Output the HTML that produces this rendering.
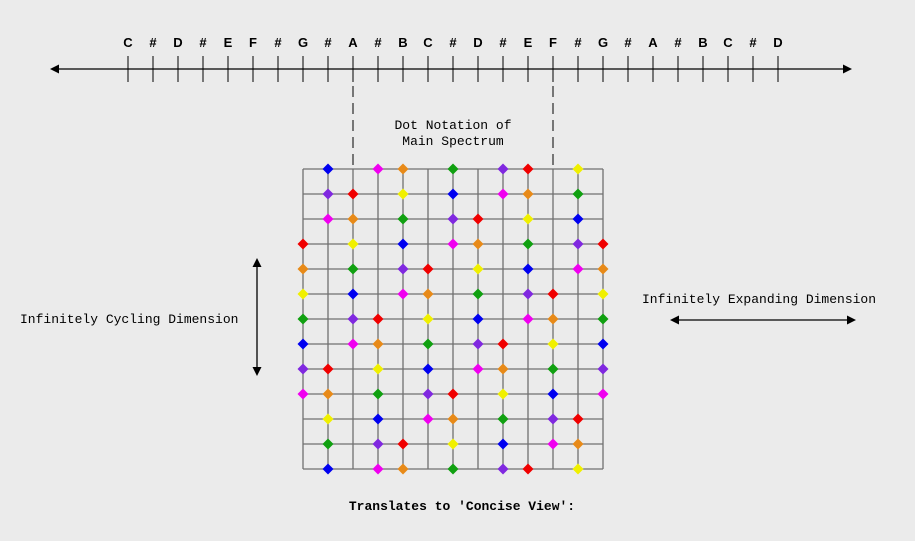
<!DOCTYPE html>
<html><head><meta charset="utf-8"><style>
html,body{margin:0;padding:0;background:#ebebeb;}
svg{display:block;}
.m{font-family:"Liberation Mono",monospace;font-size:13px;fill:#000;}
.l{font-family:"Liberation Sans",sans-serif;font-size:13px;font-weight:bold;fill:#000;}
</style></head><body>
<svg width="915" height="541" viewBox="0 0 915 541" xmlns="http://www.w3.org/2000/svg">
<defs>
<path id="d" d="M0,-5.5 L5.5,0 L0,5.5 L-5.5,0Z"/>
</defs>
<rect width="915" height="541" fill="#ebebeb"/>
<!-- top axis -->
<line x1="54" y1="69" x2="848" y2="69" stroke="#000" stroke-width="1.3"/>
<path d="M50,69 L59,64.5 L59,73.5Z M852,69 L843,64.5 L843,73.5Z" fill="#000"/>
<g stroke="#000" stroke-width="1">
<line x1="128" y1="56" x2="128" y2="82"/><line x1="153" y1="56" x2="153" y2="82"/><line x1="178" y1="56" x2="178" y2="82"/><line x1="203" y1="56" x2="203" y2="82"/><line x1="228" y1="56" x2="228" y2="82"/><line x1="253" y1="56" x2="253" y2="82"/><line x1="278" y1="56" x2="278" y2="82"/><line x1="303" y1="56" x2="303" y2="82"/><line x1="328" y1="56" x2="328" y2="82"/><line x1="353" y1="56" x2="353" y2="82"/><line x1="378" y1="56" x2="378" y2="82"/><line x1="403" y1="56" x2="403" y2="82"/><line x1="428" y1="56" x2="428" y2="82"/><line x1="453" y1="56" x2="453" y2="82"/><line x1="478" y1="56" x2="478" y2="82"/><line x1="503" y1="56" x2="503" y2="82"/><line x1="528" y1="56" x2="528" y2="82"/><line x1="553" y1="56" x2="553" y2="82"/><line x1="578" y1="56" x2="578" y2="82"/><line x1="603" y1="56" x2="603" y2="82"/><line x1="628" y1="56" x2="628" y2="82"/><line x1="653" y1="56" x2="653" y2="82"/><line x1="678" y1="56" x2="678" y2="82"/><line x1="703" y1="56" x2="703" y2="82"/><line x1="728" y1="56" x2="728" y2="82"/><line x1="753" y1="56" x2="753" y2="82"/><line x1="778" y1="56" x2="778" y2="82"/>
</g>
<g class="l" text-anchor="middle">
<text x="128" y="47">C</text><text x="153" y="47">#</text><text x="178" y="47">D</text><text x="203" y="47">#</text><text x="228" y="47">E</text><text x="253" y="47">F</text><text x="278" y="47">#</text><text x="303" y="47">G</text><text x="328" y="47">#</text><text x="353" y="47">A</text><text x="378" y="47">#</text><text x="403" y="47">B</text><text x="428" y="47">C</text><text x="453" y="47">#</text><text x="478" y="47">D</text><text x="503" y="47">#</text><text x="528" y="47">E</text><text x="553" y="47">F</text><text x="578" y="47">#</text><text x="603" y="47">G</text><text x="628" y="47">#</text><text x="653" y="47">A</text><text x="678" y="47">#</text><text x="703" y="47">B</text><text x="728" y="47">C</text><text x="753" y="47">#</text><text x="778" y="47">D</text>
</g>
<!-- dashed -->
<g stroke="#000" stroke-width="1" stroke-dasharray="11,6">
<line x1="353" y1="86" x2="353" y2="165"/><line x1="553" y1="86" x2="553" y2="165"/>
</g>
<text class="m" x="453" y="129" text-anchor="middle">Dot Notation of</text>
<text class="m" x="453" y="145" text-anchor="middle">Main Spectrum</text>
<!-- grid -->
<g stroke="#707070" stroke-width="1.3">
<line x1="303" y1="169" x2="603" y2="169"/><line x1="303" y1="194" x2="603" y2="194"/><line x1="303" y1="219" x2="603" y2="219"/><line x1="303" y1="244" x2="603" y2="244"/><line x1="303" y1="269" x2="603" y2="269"/><line x1="303" y1="294" x2="603" y2="294"/><line x1="303" y1="319" x2="603" y2="319"/><line x1="303" y1="344" x2="603" y2="344"/><line x1="303" y1="369" x2="603" y2="369"/><line x1="303" y1="394" x2="603" y2="394"/><line x1="303" y1="419" x2="603" y2="419"/><line x1="303" y1="444" x2="603" y2="444"/><line x1="303" y1="469" x2="603" y2="469"/>
<line x1="303" y1="169" x2="303" y2="469"/><line x1="328" y1="169" x2="328" y2="469"/><line x1="353" y1="169" x2="353" y2="469"/><line x1="378" y1="169" x2="378" y2="469"/><line x1="403" y1="169" x2="403" y2="469"/><line x1="428" y1="169" x2="428" y2="469"/><line x1="453" y1="169" x2="453" y2="469"/><line x1="478" y1="169" x2="478" y2="469"/><line x1="503" y1="169" x2="503" y2="469"/><line x1="528" y1="169" x2="528" y2="469"/><line x1="553" y1="169" x2="553" y2="469"/><line x1="578" y1="169" x2="578" y2="469"/><line x1="603" y1="169" x2="603" y2="469"/>
</g>
<g>
<!-- row0 y169 -->
<use href="#d" x="328" y="169" fill="#0000f0"/><use href="#d" x="378" y="169" fill="#f000f0"/><use href="#d" x="403" y="169" fill="#e88a18"/><use href="#d" x="453" y="169" fill="#10a010"/><use href="#d" x="503" y="169" fill="#8028e0"/><use href="#d" x="528" y="169" fill="#f00000"/><use href="#d" x="578" y="169" fill="#f0f000"/>
<!-- row1 -->
<use href="#d" x="328" y="194" fill="#8028e0"/><use href="#d" x="353" y="194" fill="#f00000"/><use href="#d" x="403" y="194" fill="#f0f000"/><use href="#d" x="453" y="194" fill="#0000f0"/><use href="#d" x="503" y="194" fill="#f000f0"/><use href="#d" x="528" y="194" fill="#e88a18"/><use href="#d" x="578" y="194" fill="#10a010"/>
<!-- row2 -->
<use href="#d" x="328" y="219" fill="#f000f0"/><use href="#d" x="353" y="219" fill="#e88a18"/><use href="#d" x="403" y="219" fill="#10a010"/><use href="#d" x="453" y="219" fill="#8028e0"/><use href="#d" x="478" y="219" fill="#f00000"/><use href="#d" x="528" y="219" fill="#f0f000"/><use href="#d" x="578" y="219" fill="#0000f0"/>
<!-- row3 -->
<use href="#d" x="303" y="244" fill="#f00000"/><use href="#d" x="353" y="244" fill="#f0f000"/><use href="#d" x="403" y="244" fill="#0000f0"/><use href="#d" x="453" y="244" fill="#f000f0"/><use href="#d" x="478" y="244" fill="#e88a18"/><use href="#d" x="528" y="244" fill="#10a010"/><use href="#d" x="578" y="244" fill="#8028e0"/><use href="#d" x="603" y="244" fill="#f00000"/>
<!-- row4 -->
<use href="#d" x="303" y="269" fill="#e88a18"/><use href="#d" x="353" y="269" fill="#10a010"/><use href="#d" x="403" y="269" fill="#8028e0"/><use href="#d" x="428" y="269" fill="#f00000"/><use href="#d" x="478" y="269" fill="#f0f000"/><use href="#d" x="528" y="269" fill="#0000f0"/><use href="#d" x="578" y="269" fill="#f000f0"/><use href="#d" x="603" y="269" fill="#e88a18"/>
<!-- row5 -->
<use href="#d" x="303" y="294" fill="#f0f000"/><use href="#d" x="353" y="294" fill="#0000f0"/><use href="#d" x="403" y="294" fill="#f000f0"/><use href="#d" x="428" y="294" fill="#e88a18"/><use href="#d" x="478" y="294" fill="#10a010"/><use href="#d" x="528" y="294" fill="#8028e0"/><use href="#d" x="553" y="294" fill="#f00000"/><use href="#d" x="603" y="294" fill="#f0f000"/>
<!-- row6 -->
<use href="#d" x="303" y="319" fill="#10a010"/><use href="#d" x="353" y="319" fill="#8028e0"/><use href="#d" x="378" y="319" fill="#f00000"/><use href="#d" x="428" y="319" fill="#f0f000"/><use href="#d" x="478" y="319" fill="#0000f0"/><use href="#d" x="528" y="319" fill="#f000f0"/><use href="#d" x="553" y="319" fill="#e88a18"/><use href="#d" x="603" y="319" fill="#10a010"/>
<!-- row7 -->
<use href="#d" x="303" y="344" fill="#0000f0"/><use href="#d" x="353" y="344" fill="#f000f0"/><use href="#d" x="378" y="344" fill="#e88a18"/><use href="#d" x="428" y="344" fill="#10a010"/><use href="#d" x="478" y="344" fill="#8028e0"/><use href="#d" x="503" y="344" fill="#f00000"/><use href="#d" x="553" y="344" fill="#f0f000"/><use href="#d" x="603" y="344" fill="#0000f0"/>
<!-- row8 -->
<use href="#d" x="303" y="369" fill="#8028e0"/><use href="#d" x="328" y="369" fill="#f00000"/><use href="#d" x="378" y="369" fill="#f0f000"/><use href="#d" x="428" y="369" fill="#0000f0"/><use href="#d" x="478" y="369" fill="#f000f0"/><use href="#d" x="503" y="369" fill="#e88a18"/><use href="#d" x="553" y="369" fill="#10a010"/><use href="#d" x="603" y="369" fill="#8028e0"/>
<!-- row9 -->
<use href="#d" x="303" y="394" fill="#f000f0"/><use href="#d" x="328" y="394" fill="#e88a18"/><use href="#d" x="378" y="394" fill="#10a010"/><use href="#d" x="428" y="394" fill="#8028e0"/><use href="#d" x="453" y="394" fill="#f00000"/><use href="#d" x="503" y="394" fill="#f0f000"/><use href="#d" x="553" y="394" fill="#0000f0"/><use href="#d" x="603" y="394" fill="#f000f0"/>
<!-- row10 -->
<use href="#d" x="328" y="419" fill="#f0f000"/><use href="#d" x="378" y="419" fill="#0000f0"/><use href="#d" x="428" y="419" fill="#f000f0"/><use href="#d" x="453" y="419" fill="#e88a18"/><use href="#d" x="503" y="419" fill="#10a010"/><use href="#d" x="553" y="419" fill="#8028e0"/><use href="#d" x="578" y="419" fill="#f00000"/>
<!-- row11 -->
<use href="#d" x="328" y="444" fill="#10a010"/><use href="#d" x="378" y="444" fill="#8028e0"/><use href="#d" x="403" y="444" fill="#f00000"/><use href="#d" x="453" y="444" fill="#f0f000"/><use href="#d" x="503" y="444" fill="#0000f0"/><use href="#d" x="553" y="444" fill="#f000f0"/><use href="#d" x="578" y="444" fill="#e88a18"/>
<!-- row12 -->
<use href="#d" x="328" y="469" fill="#0000f0"/><use href="#d" x="378" y="469" fill="#f000f0"/><use href="#d" x="403" y="469" fill="#e88a18"/><use href="#d" x="453" y="469" fill="#10a010"/><use href="#d" x="503" y="469" fill="#8028e0"/><use href="#d" x="528" y="469" fill="#f00000"/><use href="#d" x="578" y="469" fill="#f0f000"/>
</g>
<!-- side labels -->
<text class="m" x="20" y="323">Infinitely Cycling Dimension</text>
<line x1="257" y1="264" x2="257" y2="370" stroke="#000" stroke-width="1.3"/>
<path d="M257,258 L252.5,267 L261.5,267Z M257,376 L252.5,367 L261.5,367Z" fill="#000"/>
<text class="m" x="642" y="303">Infinitely Expanding Dimension</text>
<line x1="676" y1="320" x2="850" y2="320" stroke="#000" stroke-width="1.3"/>
<path d="M670,320 L679,315.5 L679,324.5Z M856,320 L847,315.5 L847,324.5Z" fill="#000"/>
<text class="m" x="462" y="510" text-anchor="middle" font-weight="bold">Translates to 'Concise View':</text>
</svg>
</body></html>
